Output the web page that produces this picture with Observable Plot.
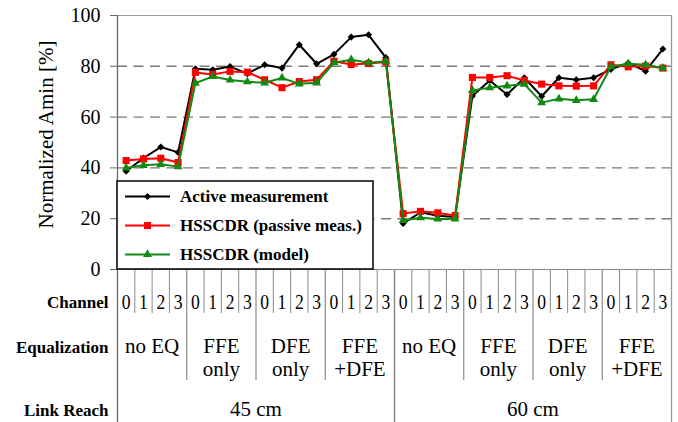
<!DOCTYPE html>
<html>
<head>
<meta charset="utf-8">
<script src="https://cdn.jsdelivr.net/npm/d3@7"></script>
<script src="https://cdn.jsdelivr.net/npm/@observablehq/plot@0.6"></script>
<style>
  body { margin: 0; background: #fff; }
  #chart { width: 678px; height: 422px; }
</style>
</head>
<body>
<div id="chart"></div>
<script>
// Test configurations: link reach > equalization > channel
const reaches = ["45 cm", "60 cm"];
const equalizations = ["no EQ", "FFE\nonly", "DFE\nonly", "FFE\n+DFE"];
const channels = ["0", "1", "2", "3"];

// Normalized Amin [%], one value per (reach, equalization, channel)
const activeMeasurement = [
  38.7, 43.9, 48.2, 46.1,  79.0, 78.6, 79.9, 77.1,  80.6, 79.3, 88.5, 81.0,  84.7, 91.5, 92.4, 83.4,
  18.1, 22.5, 21.2, 20.7,  68.3, 74.4, 68.9, 75.5,  68.2, 75.5, 74.7, 75.5,  78.8, 81.3, 78.1, 86.8
];
const hsscdrPassive = [
  42.9, 43.5, 43.8, 42.1,  77.6, 76.8, 78.0, 77.7,  74.7, 71.6, 74.0, 74.7,  82.0, 80.7, 81.1, 81.7,
  22.0, 22.9, 22.3, 21.2,  75.6, 75.6, 76.3, 74.4,  73.0, 72.3, 72.2, 72.3,  80.6, 79.8, 80.1, 79.3
];
const hsscdrModel = [
  40.0, 41.0, 41.4, 40.5,  73.4, 76.0, 74.6, 73.9,  73.5, 75.4, 73.1, 73.5,  81.4, 82.6, 81.4, 82.0,
  19.3, 20.4, 19.9, 19.9,  70.5, 71.6, 72.3, 73.0,  65.7, 67.2, 66.6, 67.0,  79.8, 81.0, 80.6, 79.3
];

const seriesNames = ["Active measurement", "HSSCDR (passive meas.)", "HSSCDR (model)"];
const rowLabels = ["Channel", "Equalization", "Link Reach"];
const yTicks = [0, 20, 40, 60, 80, 100];
const gridTicks = [20, 40, 60, 80];

const serif = "Liberation Serif, DejaVu Serif, serif";

// Flatten the hierarchy into one row per channel position
const rows = [];
reaches.forEach((reach, r) => {
  equalizations.forEach((eq, e) => {
    channels.forEach((ch, c) => {
      const i = rows.length;
      rows.push({i, x: i + 0.5, reach, eq, channel: ch,
        active: activeMeasurement[i], passive: hsscdrPassive[i], model: hsscdrModel[i]});
    });
  });
});
const nCols = rows.length;

const eqGroups = [];
reaches.forEach((reach, r) => equalizations.forEach((eq, e) => {
  eqGroups.push({label: eq, x: (r * equalizations.length + e) * channels.length + channels.length / 2});
}));
const reachGroups = reaches.map((reach, r) => ({label: reach, x: (r + 0.5) * equalizations.length * channels.length}));

// Column boundaries for the table beneath the plot
const groupSize = channels.length;
const reachSize = equalizations.length * channels.length;
const bounds = d3.range(1, nCols);
const channelBounds = bounds.filter(b => b % groupSize !== 0);
const eqBounds = bounds.filter(b => b % groupSize === 0 && b % reachSize !== 0);
const reachBounds = bounds.filter(b => b % reachSize === 0);

const series = [
  {name: seriesNames[0], key: "active",  color: "#000000", symbol: "diamond2", r: 3.2},
  {name: seriesNames[1], key: "passive", color: "#ff0000", symbol: "square",   r: 4.0},
  {name: seriesNames[2], key: "model",   color: "#108a10", symbol: "triangle", r: 3.3}
];

const symbolFor = {diamond2: d3.symbolDiamond2, square: d3.symbolSquare, triangle: d3.symbolTriangle};

// Legend box drawn in the lower-left corner of the frame
function legend(index, scales, values, dim) {
  const g = d3.create("svg:g");
  const x0 = dim.marginLeft, yb = dim.height - dim.marginBottom;
  const w = 256, h = 88;
  g.append("rect").attr("x", x0).attr("y", yb - h).attr("width", w).attr("height", h)
    .attr("fill", "#fff").attr("stroke", "#000").attr("stroke-width", 1.5);
  series.forEach((s, k) => {
    const cy = yb - h + 15.5 + k * 29;
    g.append("line").attr("x1", x0 + 8).attr("x2", x0 + 53).attr("y1", cy).attr("y2", cy)
      .attr("stroke", s.color).attr("stroke-width", 2);
    g.append("path").attr("transform", `translate(${x0 + 30.5},${cy})`)
      .attr("d", d3.symbol(symbolFor[s.symbol], s.r * s.r * Math.PI)())
      .attr("fill", s.color);
    g.append("text").attr("x", x0 + 63).attr("y", cy).attr("dy", "0.35em")
      .attr("text-anchor", "start")
      .attr("font-size", 17).attr("font-weight", "bold").attr("fill", "#000")
      .text(s.name);
  });
  return g.node();
}

const marginTop = 15, marginBottom = 153, frameH = 422 - marginTop - marginBottom;
const rowBaselines = [38, 83, 146.5];

const chart = Plot.plot({
  width: 678,
  height: 422,
  marginLeft: 117,
  marginRight: 7,
  marginTop,
  marginBottom,
  style: {fontSize: "20px", color: "#000", background: "#fff"},
  x: {domain: [0, nCols], axis: null},
  y: {domain: [0, 100], axis: null},
  marks: [
    Plot.ruleY(gridTicks, {stroke: "#7a7a7a", strokeWidth: 1.4, strokeDasharray: "10,6.5"}),
    Plot.ruleY([100], {stroke: "#999", strokeWidth: 1.2}),
    Plot.ruleY([0], {stroke: "#888", strokeWidth: 1.2}),
    // table grid
    Plot.ruleX(channelBounds, {stroke: "#8a8a8a", strokeWidth: 1, insetTop: frameH, insetBottom: -44}),
    Plot.ruleX(eqBounds, {stroke: "#8a8a8a", strokeWidth: 1.2, insetTop: frameH, insetBottom: -111}),
    Plot.ruleX(reachBounds, {stroke: "#8a8a8a", strokeWidth: 1.5, insetTop: frameH, insetBottom: -marginBottom}),
    Plot.ruleX([0], {stroke: "#6a6a6a", strokeWidth: 1.3, insetBottom: -marginBottom}),
    Plot.ruleX([nCols], {stroke: "#999", strokeWidth: 1.3, insetBottom: -marginBottom}),
    Plot.axisY(yTicks, {tickSize: 7, tickPadding: 10, fontSize: 20, label: null, stroke: "#6a6a6a"}),
    Plot.text(["Normalized Amin [%]"], {frameAnchor: "left", textAnchor: "middle", dx: -71, dy: -8, rotate: -90, fontSize: 21}),
    // series
    ...series.flatMap(s => [
      Plot.line(rows, {x: "x", y: s.key, stroke: s.color, strokeWidth: 2}),
      Plot.dot(rows, {x: "x", y: s.key, fill: s.color, symbol: s.symbol, r: s.r})
    ]),
    legend,
    // table labels
    Plot.text(rows, {x: "x", text: "channel", frameAnchor: "bottom", lineAnchor: "bottom", dy: 39, fontSize: 22}),
    Plot.text(eqGroups, {x: "x", text: "label", frameAnchor: "bottom", lineAnchor: "top", dy: 66.6, fontSize: 21, lineHeight: 1.1}),
    Plot.text(reachGroups, {x: "x", text: "label", frameAnchor: "bottom", lineAnchor: "bottom", dy: 146.5, fontSize: 21}),
    ...rowLabels.map((label, k) => Plot.text([label], {
      frameAnchor: "bottom-left", textAnchor: "end", lineAnchor: "bottom",
      dx: -9, dy: rowBaselines[k], fontSize: 17, fontWeight: "bold"
    }))
  ]
});

document.getElementById("chart").appendChild(chart);

// Serif typeface on every text of the figure
d3.select(chart).style("font-family", serif);
d3.select(chart).selectAll("text").style("font-family", serif);

// Narrow, tall digits in the channel row
d3.select(chart).selectAll("text")
  .filter(function () { return channels.includes(this.textContent) && !this.closest('[aria-label="y-axis tick label"]'); })
  .each(function () {
    const el = d3.select(this);
    const t = el.attr("transform");
    if (t) el.attr("transform", t + " scale(0.8,1)");
  });
</script>
</body>
</html>
